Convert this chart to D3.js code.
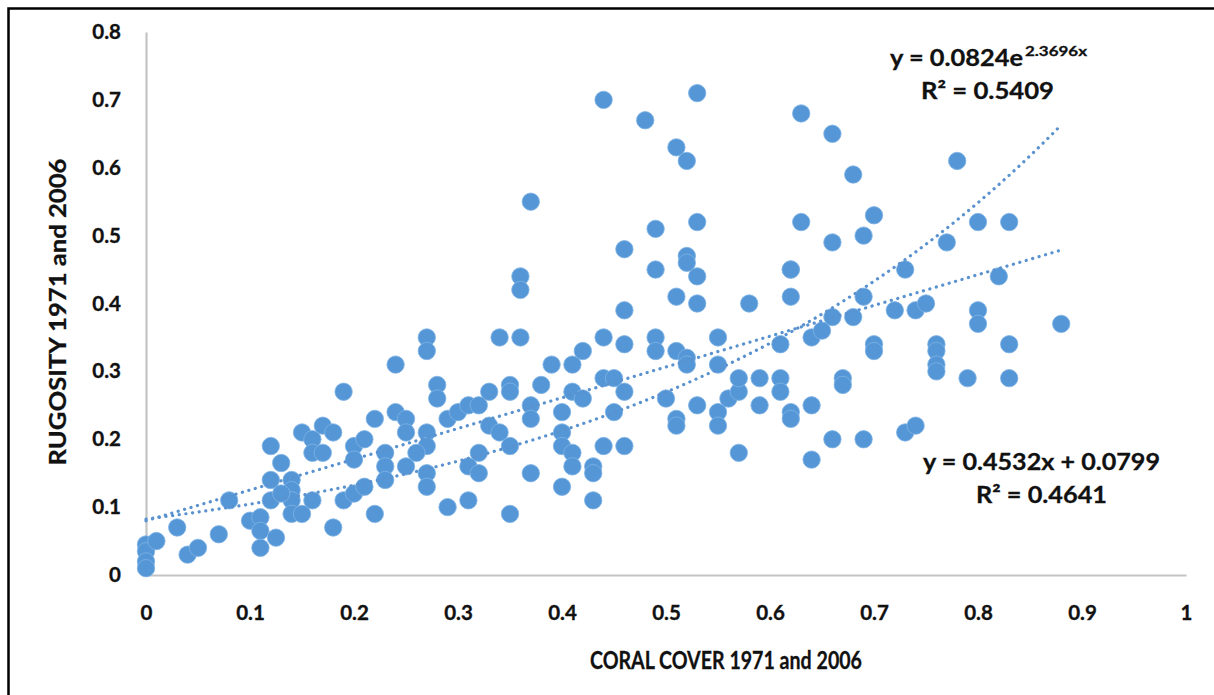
<!DOCTYPE html>
<html>
<head>
<meta charset="utf-8">
<script src="https://cdn.jsdelivr.net/npm/d3@7"></script>
<style>
  html, body { margin: 0; padding: 0; background: #fff; }
  svg { display: block; font-family: Lato, "Open Sans", sans-serif; }
</style>
</head>
<body>
<svg id="chart" width="1214" height="695"></svg>
<script>
// ---- data ----
const coralCover = [
  0, 0, 0, 0, 0.01, 0.03, 0.04, 0.05, 0.07, 0.08,
  0.10, 0.11, 0.11, 0.11, 0.125, 0.12, 0.13, 0.12, 0.12, 0.14,
  0.14, 0.14, 0.13, 0.14, 0.15, 0.16, 0.15, 0.16, 0.16, 0.17,
  0.17, 0.18, 0.18, 0.19, 0.20, 0.20, 0.21, 0.19, 0.20, 0.21,
  0.22, 0.22, 0.23, 0.23, 0.23, 0.24, 0.24, 0.25, 0.25, 0.25,
  0.27, 0.27, 0.28, 0.28, 0.27, 0.27, 0.26, 0.27, 0.27, 0.29,
  0.30, 0.31, 0.32, 0.33, 0.34, 0.33, 0.34, 0.32, 0.31, 0.32,
  0.29, 0.31, 0.36, 0.35, 0.35, 0.38, 0.37, 0.37, 0.35, 0.37,
  0.35, 0.39, 0.41, 0.42, 0.41, 0.42, 0.44, 0.45, 0.46, 0.46,
  0.44, 0.40, 0.40, 0.40, 0.41, 0.41, 0.44, 0.46, 0.43, 0.43,
  0.40, 0.43, 0.45, 0.49, 0.49, 0.51, 0.52, 0.52, 0.55, 0.55,
  0.50, 0.51, 0.51, 0.53, 0.55, 0.55, 0.56, 0.57, 0.57, 0.57,
  0.59, 0.59, 0.61, 0.61, 0.61, 0.62, 0.62, 0.64, 0.66, 0.64,
  0.64, 0.65, 0.66, 0.67, 0.67, 0.44, 0.53, 0.48, 0.51, 0.52,
  0.63, 0.66, 0.68, 0.37, 0.53, 0.63, 0.49, 0.46, 0.66, 0.52,
  0.52, 0.49, 0.53, 0.62, 0.36, 0.36, 0.51, 0.53, 0.58, 0.62,
  0.46, 0.78, 0.70, 0.69, 0.80, 0.83, 0.77, 0.73, 0.82, 0.69,
  0.68, 0.72, 0.74, 0.75, 0.80, 0.80, 0.88, 0.70, 0.70, 0.76,
  0.76, 0.76, 0.76, 0.83, 0.79, 0.83, 0.69, 0.73, 0.74, 0.62
];
const rugosity = [
  0.045, 0.035, 0.02, 0.01, 0.05, 0.07, 0.03, 0.04, 0.06, 0.11,
  0.08, 0.085, 0.065, 0.04, 0.055, 0.19, 0.165, 0.14, 0.11, 0.14,
  0.125, 0.11, 0.12, 0.09, 0.09, 0.11, 0.21, 0.20, 0.18, 0.18,
  0.22, 0.21, 0.07, 0.27, 0.19, 0.17, 0.20, 0.11, 0.12, 0.13,
  0.23, 0.09, 0.18, 0.16, 0.14, 0.31, 0.24, 0.23, 0.21, 0.16,
  0.35, 0.33, 0.28, 0.26, 0.21, 0.19, 0.18, 0.15, 0.13, 0.23,
  0.24, 0.25, 0.25, 0.22, 0.21, 0.27, 0.35, 0.18, 0.16, 0.15,
  0.10, 0.11, 0.35, 0.28, 0.27, 0.28, 0.25, 0.23, 0.19, 0.15,
  0.09, 0.31, 0.31, 0.33, 0.27, 0.26, 0.29, 0.29, 0.27, 0.34,
  0.35, 0.24, 0.21, 0.19, 0.18, 0.16, 0.19, 0.19, 0.16, 0.15,
  0.13, 0.11, 0.24, 0.35, 0.33, 0.33, 0.32, 0.31, 0.35, 0.31,
  0.26, 0.23, 0.22, 0.25, 0.24, 0.22, 0.26, 0.27, 0.29, 0.18,
  0.29, 0.25, 0.29, 0.27, 0.34, 0.24, 0.23, 0.25, 0.20, 0.17,
  0.35, 0.36, 0.38, 0.29, 0.28, 0.70, 0.71, 0.67, 0.63, 0.61,
  0.68, 0.65, 0.59, 0.55, 0.52, 0.52, 0.51, 0.48, 0.49, 0.47,
  0.46, 0.45, 0.44, 0.45, 0.44, 0.42, 0.41, 0.40, 0.40, 0.41,
  0.39, 0.61, 0.53, 0.50, 0.52, 0.52, 0.49, 0.45, 0.44, 0.41,
  0.38, 0.39, 0.39, 0.40, 0.39, 0.37, 0.37, 0.34, 0.33, 0.34,
  0.33, 0.31, 0.30, 0.34, 0.29, 0.29, 0.20, 0.21, 0.22, 0.45
];
const xTicks = [0, 0.1, 0.2, 0.3, 0.4, 0.5, 0.6, 0.7, 0.8, 0.9, 1];
const yTicks = [0, 0.1, 0.2, 0.3, 0.4, 0.5, 0.6, 0.7, 0.8];
const xTickLabels = ["0", "0.1", "0.2", "0.3", "0.4", "0.5", "0.6", "0.7", "0.8", "0.9", "1"];
const yTickLabels = ["0", "0.1", "0.2", "0.3", "0.4", "0.5", "0.6", "0.7", "0.8"];
const xTitle = "CORAL COVER 1971 and 2006";
const yTitle = "RUGOSITY 1971 and 2006";
// trendline coefficients (as printed on the chart)
const linSlope = 0.4532, linIntercept = 0.0799;
const expCoef = 0.0824, expRate = 2.3696;
const trendRange = [0, 0.88];
const linEqText = "y = 0.4532x + 0.0799";
const linR2Text = "R\u00B2 = 0.4641";
const expEqMain = "y = 0.0824e";
const expEqSup = "2.3696x";
const expR2Text = "R\u00B2 = 0.5409";

// ---- drawing ----
const svg = d3.select("#chart");
const x = d3.scaleLinear().domain([0, 1]).range([146, 1186]);
const y = d3.scaleLinear().domain([0, 0.8]).range([575, 32]);
const blue = "#5597d6";
const axisGrey = "#c4c4c4";
const textCol = "#111";

// frame
svg.append("rect").attr("x", 8.5).attr("y", 8.5).attr("width", 1400).attr("height", 1000)
  .attr("fill", "none").attr("stroke", "#000").attr("stroke-width", 2.5);

// axes lines
const xAxis = d3.axisBottom(x).tickValues(xTicks).tickSize(0).tickFormat((d, i) => xTickLabels[i]);
const gx = svg.append("g").attr("transform", `translate(0,${y(0)})`).call(xAxis);
gx.select(".domain").attr("stroke", axisGrey).attr("stroke-width", 2.2);
gx.selectAll("text").attr("font-size", 20.5).attr("font-weight", "bold").attr("fill", textCol)
  .attr("font-family", "Lato").attr("dy", null).attr("y", 45)
  .attr("stroke", textCol).attr("stroke-width", 0.35);

const yAxis = d3.axisLeft(y).tickValues(yTicks).tickSize(0).tickFormat((d, i) => yTickLabels[i]);
const gy = svg.append("g").attr("transform", `translate(${x(0)},0)`).call(yAxis);
gy.select(".domain").attr("stroke", axisGrey).attr("stroke-width", 2.2);
gy.selectAll("text").attr("font-size", 20.5).attr("font-weight", "bold").attr("fill", textCol)
  .attr("font-family", "Lato").attr("x", -25)
  .attr("stroke", textCol).attr("stroke-width", 0.35);

// axis titles
svg.append("text").attr("x", 726).attr("y", 669).attr("text-anchor", "middle")
  .attr("font-size", 25).attr("font-weight", "bold").attr("fill", textCol)
  .attr("stroke", textCol).attr("stroke-width", 0.3)
  .attr("textLength", 272).attr("lengthAdjust", "spacingAndGlyphs").text(xTitle);
svg.append("text").attr("transform", "translate(66,312) rotate(-90)").attr("text-anchor", "middle")
  .attr("font-size", 23.5).attr("font-weight", "bold").attr("fill", textCol)
  .attr("stroke", textCol).attr("stroke-width", 0.3)
  .attr("textLength", 307).attr("lengthAdjust", "spacingAndGlyphs").text(yTitle);

// points
const pts = coralCover.map((c, i) => ({ c, r: rugosity[i] }));
svg.append("g").selectAll("circle").data(pts).join("circle")
  .attr("cx", d => x(d.c)).attr("cy", d => y(d.r)).attr("r", 8.7)
  .attr("fill", blue).attr("stroke", "#7fb3e4").attr("stroke-width", 0.8);

// trendlines
const tx = d3.range(trendRange[0], trendRange[1] + 1e-9, 0.01);
const line = d3.line().x(d => x(d[0])).y(d => y(d[1]));
svg.append("path").datum(tx.map(v => [v, linIntercept + linSlope * v]))
  .attr("d", line).attr("fill", "none").attr("stroke", "#5a92cf").attr("stroke-width", 3.2)
  .attr("stroke-linecap", "round").attr("stroke-dasharray", "0.1 6.6");
svg.append("path").datum(tx.map(v => [v, expCoef * Math.exp(expRate * v)]))
  .attr("d", line).attr("fill", "none").attr("stroke", "#5a92cf").attr("stroke-width", 3.2)
  .attr("stroke-linecap", "round").attr("stroke-dasharray", "0.1 6.6");

// equations
function label(tx_, ty, str, len, size) {
  svg.append("text").attr("x", tx_).attr("y", ty).attr("font-size", size).attr("font-weight", "bold")
    .attr("fill", textCol).attr("stroke", textCol).attr("stroke-width", 0.3)
    .attr("textLength", len).attr("lengthAdjust", "spacingAndGlyphs").text(str);
}
label(890, 66, expEqMain, 133, 23.5);
label(1025, 56, expEqSup, 62, 13.5);
label(921, 99, expR2Text, 133, 23.5);
label(923, 470, linEqText, 237, 23.5);
label(976, 503, linR2Text, 131, 23.5);
</script>
</body>
</html>
